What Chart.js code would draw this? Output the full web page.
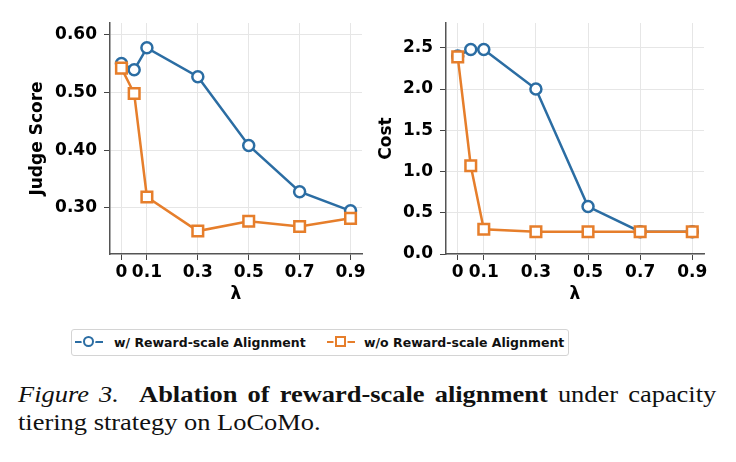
<!DOCTYPE html>
<html>
<head>
<meta charset="utf-8">
<script src="https://cdn.jsdelivr.net/npm/chart.js@4.4.1/dist/chart.umd.min.js"></script>
<style>
  body { margin: 0; background: #fff; width: 736px; height: 462px; position: relative; overflow: hidden; }
  .plot { position: absolute; top: 0; }
  #legend {
    position: absolute; left: 71px; top: 329px; width: 496px; height: 25px;
    border: 1px solid #d4d4d4; border-radius: 3px;
    font-family: "DejaVu Sans", sans-serif; font-weight: bold; font-size: 12.5px; color: #111;
  }
  .item { position: absolute; top: 0; height: 25px; line-height: 25px; white-space: nowrap; }
  .mark { position: absolute; top: 12px; width: 28px; height: 0; }
  .mark .ln { position: absolute; left: 0; top: -1.25px; width: 28px; height: 2.5px; }
  .mark .pt { position: absolute; left: 8px; top: -6px; width: 7px; height: 7px; border: 2.5px solid; background: #fff; box-shadow: 0 0 0 1.5px #fff; }
  #caption {
    position: absolute; left: 18px; top: 381px; width: 620px; white-space: nowrap;
    font-family: "Liberation Serif", "Times New Roman", serif; font-size: 23px; line-height: 28px; color: #111;
    transform: scaleX(1.15); transform-origin: 0 0;
  }
</style>
</head>
<body>
<div class="plot" style="left:0px;width:372px;height:310px;"><canvas id="judgeChart"></canvas></div>
<div class="plot" style="left:370px;width:366px;height:310px;"><canvas id="costChart"></canvas></div>

<div id="legend">
  <div class="item" style="left:3px;">
    <span class="mark"><span class="ln" style="background:#2b6da3"></span><span class="pt" style="border-color:#2b6da3;border-radius:50%"></span></span>
    <span style="position:absolute;left:39px;">w/ Reward-scale Alignment</span>
  </div>
  <div class="item" style="left:255px;">
    <span class="mark"><span class="ln" style="background:#e67e2b"></span><span class="pt" style="border-color:#e67e2b"></span></span>
    <span style="position:absolute;left:37px;">w/o Reward-scale Alignment</span>
  </div>
</div>

<div id="caption"><span style="word-spacing:3px"><i>Figure 3.</i>&nbsp; <b>Ablation of reward-scale alignment</b> under capacity</span><br>tiering strategy on LoCoMo.</div>

<script>
// lambda values and x tick positions
const lambdas = [0, 0.05, 0.1, 0.3, 0.5, 0.7, 0.9];
const xTicks = [0, 0.1, 0.3, 0.5, 0.7, 0.9];

// judge score
const judgeWith = [0.550, 0.539, 0.577, 0.527, 0.408, 0.328, 0.295];
const judgeWithout = [0.542, 0.498, 0.319, 0.260, 0.277, 0.268, 0.282];
const judgeTicks = [0.30, 0.40, 0.50, 0.60];

// cost
const costWith = [2.40, 2.48, 2.48, 2.00, 0.575, 0.27, 0.27];
const costWithout = [2.39, 1.07, 0.30, 0.27, 0.27, 0.27, 0.27];
const costTicks = [0, 0.5, 1.0, 1.5, 2.0, 2.5];

const BLUE = '#2b6da3';
const ORANGE = '#e67e2b';
const FONT = { family: 'DejaVu Sans', weight: 'bold', size: 17 };

function toPoints(ys) {
  return lambdas.map(function(x, i) { return { x: x, y: ys[i] }; });
}

function makeChart(id, withVals, withoutVals, yTicks, yMin, yMax, decimals, yTitle, yWidth, titlePad, padRight) {
  return new Chart(document.getElementById(id), {
    type: 'line',
    data: {
      datasets: [{
        label: 'w/ Reward-scale Alignment',
        data: toPoints(withVals),
        borderColor: BLUE,
        backgroundColor: '#fff',
        borderWidth: 2.5,
        pointStyle: 'circle',
        pointRadius: 5.5,
        pointBorderWidth: 2.5,
        pointBackgroundColor: '#fff',
        pointBorderColor: BLUE,
        order: 1
      }, {
        label: 'w/o Reward-scale Alignment',
        data: toPoints(withoutVals),
        borderColor: ORANGE,
        backgroundColor: '#fff',
        borderWidth: 2.5,
        pointStyle: 'rect',
        pointRadius: 7.5,
        pointBorderWidth: 2.5,
        pointBackgroundColor: '#fff',
        pointBorderColor: ORANGE,
        order: 0
      }]
    },
    options: {
      responsive: true,
      maintainAspectRatio: false,
      animation: false,
      layout: { padding: { top: 23, right: padRight, left: 0, bottom: 0 } },
      plugins: { legend: { display: false }, tooltip: { enabled: false } },
      scales: {
        x: {
          type: 'linear',
          min: -0.045,
          max: 0.945,
          afterBuildTicks: function(scale) {
            scale.ticks = xTicks.map(function(v) { return { value: v }; });
          },
          afterFit: function(scale) { scale.height = 56; },
          grid: { color: '#e6e6e6', lineWidth: 1, tickColor: '#444', tickLength: 6 },
          border: { display: true, color: '#555', width: 1.5 },
          ticks: {
            autoSkip: false,
            maxRotation: 0,
            padding: 2,
            color: '#000',
            font: FONT,
            callback: function(v) { return v === 0 ? '0' : v.toFixed(1); }
          },
          title: { display: true, text: 'λ', color: '#000', font: FONT, padding: { top: 0, bottom: 5 } }
        },
        y: {
          min: yMin,
          max: yMax,
          afterBuildTicks: function(scale) {
            scale.ticks = yTicks.map(function(v) { return { value: v }; });
          },
          afterFit: function(scale) { scale.width = yWidth; },
          grid: { color: '#e6e6e6', lineWidth: 1, tickColor: '#444', tickLength: 6 },
          border: { display: true, color: '#555', width: 1.5 },
          ticks: {
            padding: 7,
            color: '#000',
            font: FONT,
            callback: function(v) { return v.toFixed(decimals); }
          },
          title: { display: true, text: yTitle, color: '#000', font: FONT, padding: { top: titlePad, bottom: 0 } }
        }
      }
    }
  });
}

makeChart('judgeChart', judgeWith, judgeWithout, judgeTicks, 0.2203, 0.620, 2, 'Judge Score', 110, 27, 2);
makeChart('costChart', costWith, costWithout, costTicks, 0, 2.80, 1, 'Cost', 76, 6, 32);
</script>
</body>
</html>
